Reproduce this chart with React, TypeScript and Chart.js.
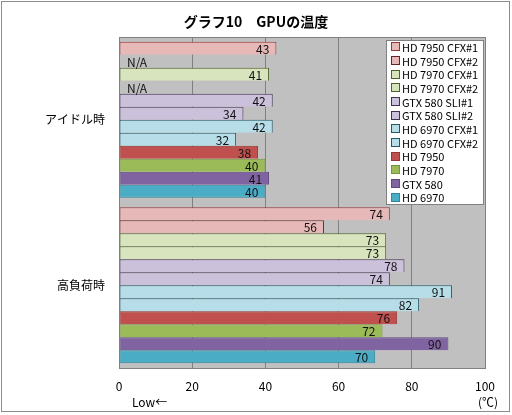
import React, { useEffect, useRef } from 'react';
import { Chart, registerables } from 'chart.js';

Chart.register(...registerables);

const TITLE = 'グラフ10　GPUの温度';
const CATEGORIES = ['アイドル時', '高負荷時'];
const SERIES_NAMES = [
  'HD 7950 CFX#1',
  'HD 7950 CFX#2',
  'HD 7970 CFX#1',
  'HD 7970 CFX#2',
  'GTX 580 SLI#1',
  'GTX 580 SLI#2',
  'HD 6970 CFX#1',
  'HD 6970 CFX#2',
  'HD 7950',
  'HD 7970',
  'GTX 580',
  'HD 6970',
];
const IDLE_VALUES: (number | null)[] = [43, null, 41, null, 42, 34, 42, 32, 38, 40, 41, 40];
const LOAD_VALUES: (number | null)[] = [74, 56, 73, 73, 78, 74, 91, 82, 76, 72, 90, 70];
const X_TICKS = [0, 20, 40, 60, 80, 100];
const FILL_COLORS = [
  '#e6b9b8', '#e6b9b8', '#d7e4bd', '#d7e4bd', '#ccc1da', '#ccc1da',
  '#b7dee8', '#b7dee8', '#c0504d', '#9bbb59', '#8064a2', '#4bacc6',
];
const BORDER_COLORS = [
  '#953735', '#632523', '#4f6228', '#4f6228', '#403152', '#403152',
  '#215968', '#215968', '#953735', '#77933c', '#5f497a', '#31859c',
];
const NA_TEXT = 'N/A';
const LOW_TEXT = 'Low←';
const UNIT_TEXT = '(℃)';

const FONT = '"Noto Sans CJK JP", "Noto Sans", sans-serif';

const customPlugin = {
  id: 'customDraw',
  beforeDraw(chart: any) {
    const { ctx, chartArea } = chart;
    ctx.save();
    ctx.fillStyle = '#ffffff';
    ctx.fillRect(0, 0, chart.width, chart.height);
    ctx.fillStyle = '#c0c0c0';
    ctx.fillRect(chartArea.left, chartArea.top, chartArea.right - chartArea.left, chartArea.bottom - chartArea.top);
    ctx.restore();
  },
  afterDatasetsDraw(chart: any) {
    const { ctx, chartArea } = chart;
    ctx.save();
    ctx.font = `12px ${FONT}`;
    ctx.fillStyle = '#111111';
    ctx.textBaseline = 'middle';
    chart.data.datasets.forEach((ds: any, i: number) => {
      const meta = chart.getDatasetMeta(i);
      meta.data.forEach((el: any, j: number) => {
        const v = ds.data[j];
        if (v === null || v === undefined) {
          ctx.textAlign = 'left';
          ctx.fillText(NA_TEXT, chartArea.left + 8, el.y + 1);
        } else {
          ctx.textAlign = 'right';
          ctx.fillText(String(v), el.x - 7, el.y + 1);
        }
      });
    });
    ctx.restore();
  },
  afterDraw(chart: any) {
    const { ctx, chartArea } = chart;
    ctx.save();
    // plot border
    ctx.strokeStyle = '#808080';
    ctx.lineWidth = 1;
    ctx.strokeRect(
      Math.round(chartArea.left) + 0.5,
      Math.round(chartArea.top) + 0.5,
      Math.round(chartArea.right - chartArea.left),
      Math.round(chartArea.bottom - chartArea.top)
    );
    // legend
    const lx = 386, ly = 40, lw = 97, lh = 164;
    ctx.fillStyle = '#ffffff';
    ctx.fillRect(lx, ly, lw, lh);
    ctx.strokeStyle = '#808080';
    ctx.strokeRect(lx + 0.5, ly + 0.5, lw, lh);
    const pitch = lh / SERIES_NAMES.length;
    ctx.font = `11px ${FONT}`;
    ctx.textAlign = 'left';
    ctx.textBaseline = 'middle';
    SERIES_NAMES.forEach((name, i) => {
      const cy = ly + pitch * (i + 0.5) + 0.5;
      const sy = Math.round(cy - 4);
      ctx.fillStyle = FILL_COLORS[i];
      ctx.fillRect(392, sy, 7, 7);
      ctx.strokeStyle = BORDER_COLORS[i];
      ctx.strokeRect(391.5, sy - 0.5, 8, 8);
      ctx.fillStyle = '#000000';
      ctx.fillText(name, 402, cy + 0.5);
    });
    // title
    ctx.font = `bold 14px ${FONT}`;
    ctx.textAlign = 'center';
    ctx.fillStyle = '#000000';
    ctx.fillText(TITLE, 256, 22);
    // low / unit
    ctx.font = `12px ${FONT}`;
    ctx.textAlign = 'left';
    ctx.fillText(LOW_TEXT, 132, 402);
    ctx.textAlign = 'center';
    ctx.fillText(UNIT_TEXT, 488, 402);
    // outer border
    ctx.strokeStyle = '#8c8c8c';
    ctx.strokeRect(1.5, 1.5, 508, 410);
    ctx.restore();
  },
};

export default function App() {
  const canvasRef = useRef<HTMLCanvasElement | null>(null);

  useEffect(() => {
    if (!canvasRef.current) return;
    const datasets = SERIES_NAMES.map((name, i) => ({
      label: name,
      data: [IDLE_VALUES[i], LOAD_VALUES[i]],
      backgroundColor: FILL_COLORS[i],
      borderColor: BORDER_COLORS[i],
      borderWidth: 1,
      borderSkipped: i === SERIES_NAMES.length - 1 ? false : 'bottom',
      categoryPercentage: 0.943,
      barPercentage: 1,
    }));
    const chart = new Chart(canvasRef.current, {
      type: 'bar',
      data: { labels: CATEGORIES, datasets: datasets as any },
      options: {
        indexAxis: 'y',
        animation: false,
        responsive: false,
        maintainAspectRatio: false,
        layout: { padding: { left: 0, top: 37, right: 27, bottom: 0 } },
        plugins: {
          legend: { display: false },
          title: { display: false },
          tooltip: { enabled: false },
        },
        scales: {
          x: {
            min: 0,
            max: 100,
            afterBuildTicks: (scale: any) => {
              scale.ticks = X_TICKS.map((v) => ({ value: v }));
            },
            afterFit: (scale: any) => {
              scale.height = 47;
            },
            grid: { display: true, color: '#808080', drawTicks: false, lineWidth: 1 },
            border: { display: false },
            ticks: {
              padding: 11,
              color: '#000000',
              font: { family: FONT, size: 12 },
              maxRotation: 0,
            },
          },
          y: {
            afterFit: (scale: any) => {
              scale.width = 119;
            },
            grid: { display: false, drawTicks: false },
            border: { display: false },
            ticks: {
              padding: 14,
              color: '#000000',
              font: { family: FONT, size: 12 },
            },
          },
        },
      } as any,
      plugins: [customPlugin],
    });
    return () => chart.destroy();
  }, []);

  return (
    <div style={{ position: 'fixed', left: 0, top: 0, width: 512, height: 415, background: '#fff' }}>
      <canvas ref={canvasRef} width={512} height={415} style={{ width: 512, height: 415, display: 'block' }} />
    </div>
  );
}
